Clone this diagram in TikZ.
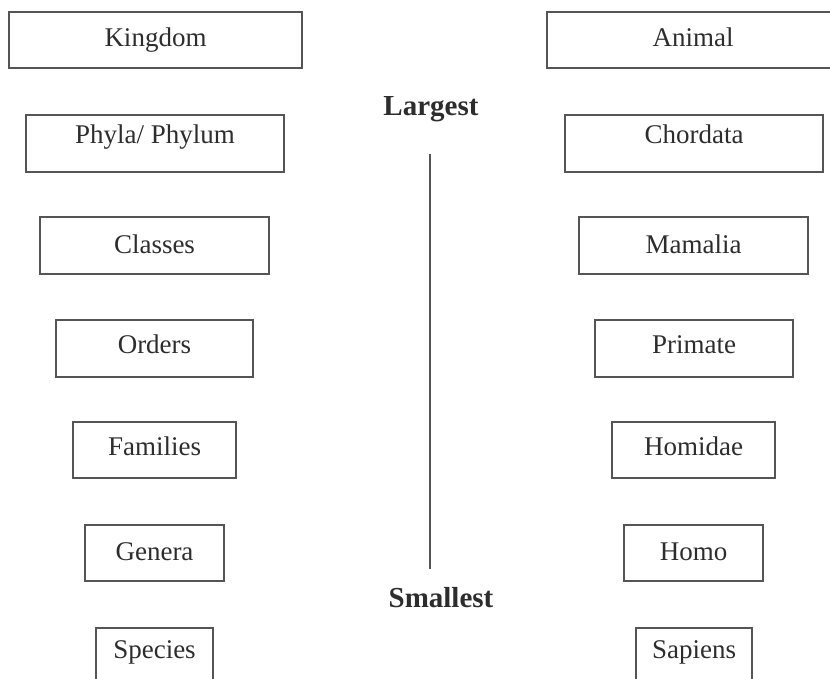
\documentclass[tikz,border=0pt]{standalone}
\usepackage{fontspec}
\setmainfont{Liberation Serif}
\definecolor{edge}{RGB}{85,85,85}
\definecolor{ink}{RGB}{45,45,45}
\begin{document}
\begin{tikzpicture}[x=1pt,y=-1pt,
  box/.style={draw=edge,line width=1.6pt,rectangle,inner sep=0pt},
  lbl/.style={anchor=base,inner sep=0pt,text=ink,font=\fontsize{27}{30}\selectfont},
  head/.style={anchor=base,inner sep=0pt,text=ink,font=\fontsize{29}{32}\selectfont\bfseries}]
\useasboundingbox (0,0) rectangle (830,678);
\clip (0,0) rectangle (830,678);
% left column
\node[box,minimum width=293,minimum height=56] (k) at (155.5,40) {};
\node[box,minimum width=258,minimum height=57] (p) at (155,143.5) {};
\node[box,minimum width=229,minimum height=57] (c) at (154.5,245.5) {};
\node[box,minimum width=197,minimum height=57] (o) at (154.5,348.5) {};
\node[box,minimum width=163,minimum height=56] (f) at (154.5,450) {};
\node[box,minimum width=139,minimum height=56] (g) at (154.5,553) {};
\node[box,minimum width=117,minimum height=62] (s) at (154.5,659) {};
\node[lbl] (kt) at (155.5,46) {Kingdom};
\node[lbl] (pt) at (155,143) {Phyla/ Phylum};
\node[lbl] (ct) at (154.5,253) {Classes};
\node[lbl] (ot) at (154.5,353) {Orders};
\node[lbl] (ft) at (154.5,455) {Families};
\node[lbl] (gt) at (154.5,560) {Genera};
\node[lbl] (st) at (154.5,658) {Species};
% right column
\node[box,minimum width=295,minimum height=56] (a) at (694.5,40) {};
\node[box,minimum width=258,minimum height=57] (ch) at (694,143.5) {};
\node[box,minimum width=229,minimum height=57] (m) at (693.5,245.5) {};
\node[box,minimum width=198,minimum height=57] (pr) at (694,348.5) {};
\node[box,minimum width=163,minimum height=56] (h) at (693.5,450) {};
\node[box,minimum width=139,minimum height=56] (ho) at (693.5,553) {};
\node[box,minimum width=116,minimum height=62] (sa) at (694,659) {};
\node[lbl] (at) at (693,46) {Animal};
\node[lbl] (cht) at (694,143) {Chordata};
\node[lbl] (mt) at (693.5,253) {Mamalia};
\node[lbl] (prt) at (694,353) {Primate};
\node[lbl] (ht) at (693.5,455) {Homidae};
\node[lbl] (hot) at (693.5,560) {Homo};
\node[lbl] (sat) at (694,658) {Sapiens};
% centre scale
\node[head] (largest) at (431,115) {Largest};
\node[head] (smallest) at (441,607) {Smallest};
\coordinate (ltop) at (430,154);
\coordinate (lbot) at (430,569);
\draw[edge,line width=1.6pt] (ltop) -- (lbot);
\end{tikzpicture}
\end{document}
